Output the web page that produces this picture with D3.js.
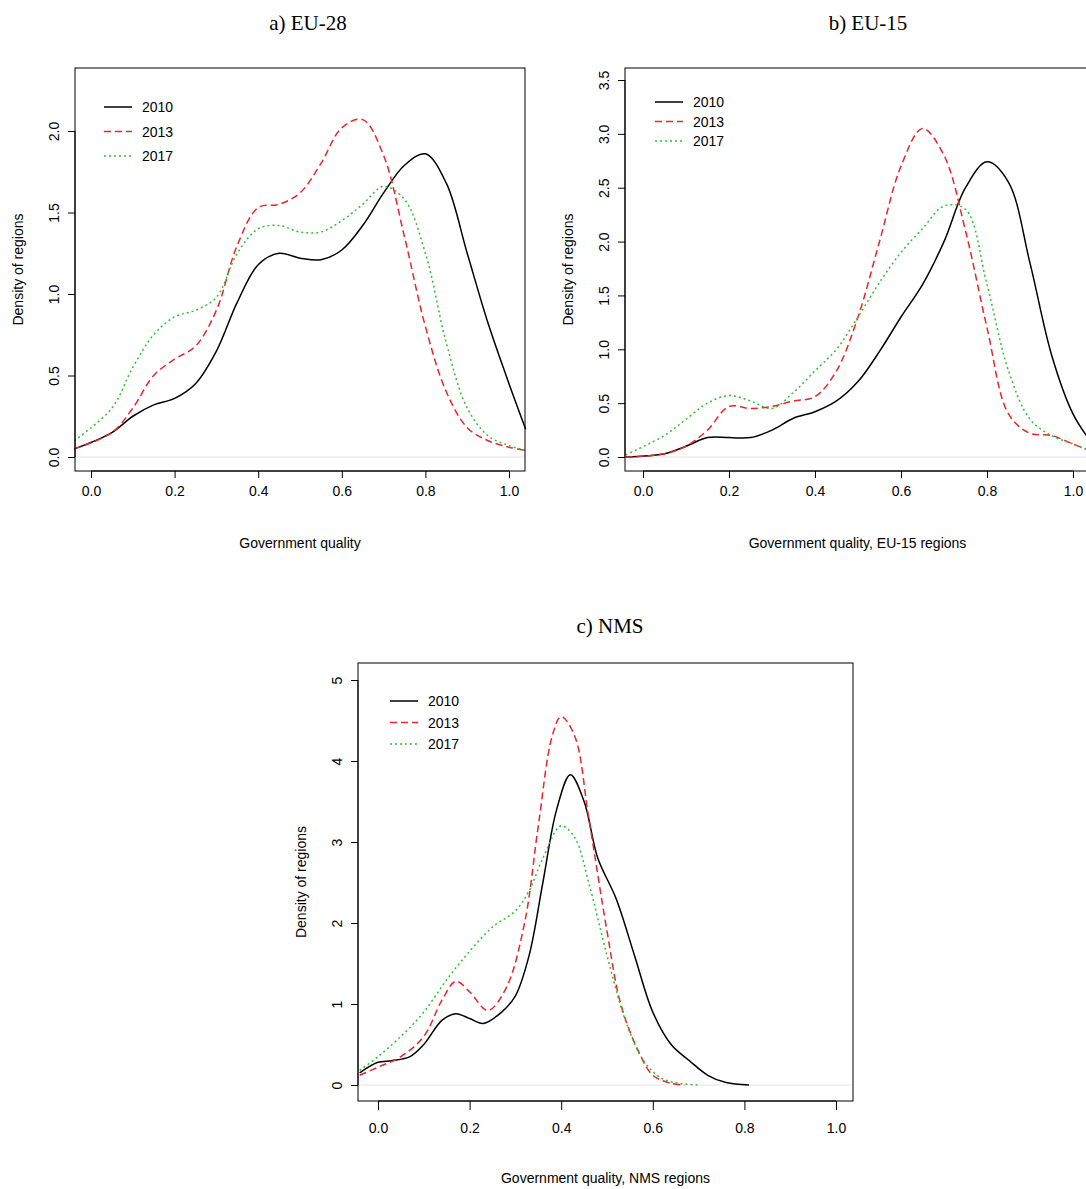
<!DOCTYPE html>
<html><head><meta charset="utf-8">
<script src="https://cdn.jsdelivr.net/npm/d3@7"></script>
<style>body{margin:0;background:#fff}svg{display:block}</style>
</head><body>
<svg id="c" width="1086" height="1189"></svg>
<script>
var years = ["2010", "2013", "2017"];
var colors = ["#000000", "#e8262b", "#2ec02e"];
var dashes = [null, "7,4", "2,3"];

var euX = [-0.04,0.05,0.1,0.15,0.2,0.25,0.3,0.35,0.4,0.45,0.5,0.55,0.6,0.65,0.7,0.75,0.8,0.85,0.9,0.95,1.0,1.04];
var eu28_2010 = [0.05,0.15,0.25,0.32,0.36,0.45,0.65,0.95,1.18,1.25,1.22,1.21,1.27,1.42,1.62,1.79,1.86,1.68,1.25,0.82,0.45,0.17];
var eu28_2013 = [0.05,0.15,0.3,0.5,0.6,0.68,0.9,1.3,1.53,1.55,1.62,1.8,2.02,2.07,1.85,1.35,0.8,0.4,0.18,0.1,0.06,0.04];
var eu28_2017 = [0.1,0.3,0.55,0.75,0.86,0.9,0.98,1.25,1.4,1.42,1.38,1.38,1.45,1.55,1.66,1.58,1.25,0.7,0.3,0.13,0.07,0.04];
var eu15_2010 = [0.0,0.03,0.1,0.18,0.18,0.18,0.25,0.36,0.42,0.52,0.7,0.98,1.3,1.6,2.0,2.5,2.74,2.55,1.8,0.95,0.4,0.15];
var eu15_2013 = [0.0,0.03,0.1,0.25,0.47,0.45,0.47,0.52,0.56,0.8,1.3,2.0,2.7,3.05,2.8,2.1,1.2,0.4,0.22,0.2,0.12,0.06];
var eu15_2017 = [0.02,0.2,0.35,0.5,0.57,0.52,0.45,0.6,0.8,1.0,1.3,1.62,1.9,2.12,2.33,2.3,1.6,0.8,0.35,0.2,0.12,0.06];

var nms2010X = [-0.04,0.0,0.03,0.07,0.1,0.14,0.17,0.2,0.23,0.27,0.3,0.33,0.36,0.39,0.42,0.45,0.48,0.52,0.56,0.6,0.64,0.68,0.72,0.76,0.81];
var nms2010 = [0.15,0.28,0.3,0.35,0.5,0.8,0.88,0.82,0.76,0.9,1.1,1.6,2.5,3.4,3.83,3.5,2.8,2.3,1.6,0.9,0.5,0.3,0.12,0.03,0.0];
var nms2013X = [-0.04,0.0,0.05,0.1,0.14,0.17,0.2,0.24,0.28,0.32,0.35,0.38,0.4,0.43,0.46,0.5,0.53,0.57,0.6,0.64,0.67];
var nms2013 = [0.12,0.22,0.35,0.6,1.05,1.28,1.15,0.92,1.2,2.0,3.2,4.3,4.55,4.3,3.3,1.9,1.0,0.4,0.12,0.02,0.0];
var nms2017X = [-0.04,0.0,0.05,0.1,0.15,0.2,0.25,0.3,0.33,0.36,0.4,0.43,0.46,0.5,0.54,0.58,0.62,0.66,0.7];
var nms2017 = [0.18,0.35,0.6,0.9,1.3,1.65,1.95,2.15,2.4,2.8,3.2,3.05,2.5,1.6,0.8,0.3,0.08,0.02,0.0];

var xTicks = [0, 0.2, 0.4, 0.6, 0.8, 1.0];
var svg = d3.select("#c");

function panel(o) {
  var x = d3.scaleLinear().domain([0, 1]).range([o.x0, o.x1]);
  var y = d3.scaleLinear().domain([0, o.yRef]).range([o.y0, o.y1]);
  var g = svg.append("g");
  g.append("text").attr("x", o.tx).attr("y", o.ty).attr("text-anchor", "middle")
    .style("font-family", "Liberation Serif, serif").style("font-size", "21px").text(o.title);
  g.append("line").attr("x1", o.bl).attr("x2", o.br).attr("y1", y(0)).attr("y2", y(0))
    .attr("stroke", "#e6e6e6");
  var line = d3.line().x(d => x(d[0])).y(d => y(d[1])).curve(d3.curveCatmullRom.alpha(0.5));
  o.series.forEach(function(s, i) {
    g.append("path").datum(d3.zip(s[0], s[1])).attr("d", line).attr("fill", "none")
      .attr("stroke", colors[i]).attr("stroke-width", 1.5).attr("stroke-dasharray", dashes[i]);
  });
  g.append("rect").attr("x", o.bl).attr("y", o.bt).attr("width", o.br - o.bl).attr("height", o.bb - o.bt)
    .attr("fill", "none").attr("stroke", "#000");
  var xa = g.append("g").attr("transform", "translate(0," + o.bb + ")")
    .call(d3.axisBottom(x).tickValues(xTicks).tickFormat(d3.format(".1f")).tickSizeOuter(0).tickSize(o.xts).tickPadding(o.xtp));
  xa.select(".domain").attr("d", "M" + x(0) + ",0H" + x(1));
  var ya = g.append("g").attr("transform", "translate(" + o.bl + ",0)")
    .call(d3.axisLeft(y).tickValues(o.yTicks).tickFormat(o.fmt).tickSizeOuter(0).tickSize(7));
  ya.select(".domain").attr("d", "M0," + y(o.yTicks[0]) + "V" + y(o.yTicks[o.yTicks.length - 1]));
  ya.selectAll(".tick text").attr("transform", "rotate(-90)").attr("x", 0).attr("y", -16)
    .attr("dy", "0").attr("text-anchor", "middle");
  [xa, ya].forEach(a => a.selectAll("text").style("font-family", "Liberation Sans, Arial").style("font-size", "14px"));
  g.append("text").attr("x", (o.bl + o.br) / 2).attr("y", o.bb + o.xly).attr("text-anchor", "middle")
    .style("font-family", "Liberation Sans, Arial").style("font-size", "14px").text(o.xlab);
  g.append("text").attr("transform", "translate(" + (o.bl - 52) + "," + ((o.bt + o.bb) / 2) + ") rotate(-90)")
    .attr("text-anchor", "middle").style("font-family", "Liberation Sans, Arial").style("font-size", "14px")
    .text("Density of regions");
  years.forEach(function(yr, i) {
    var ly = o.ly + i * o.lh;
    g.append("line").attr("x1", o.lx).attr("x2", o.lx + 28).attr("y1", ly).attr("y2", ly)
      .attr("stroke", colors[i]).attr("stroke-width", 1.5).attr("stroke-dasharray", dashes[i]);
    g.append("text").attr("x", o.lx + 38).attr("y", ly + 5).style("font-family", "Liberation Sans, Arial")
      .style("font-size", "14px").text(yr);
  });
}

panel({title: "a) EU-28", tx: 308, ty: 30, x0: 91, x1: 509, yRef: 2, y0: 457, y1: 131,
  bl: 75, br: 525, bt: 68, bb: 471, yTicks: [0, 0.5, 1, 1.5, 2], fmt: d3.format(".1f"),
  xts: 7, xtp: 8, xly: 77,
  xlab: "Government quality", lx: 104, ly: 107, lh: 24.5,
  series: [[euX, eu28_2010], [euX, eu28_2013], [euX, eu28_2017]]});
panel({title: "b) EU-15", tx: 868, ty: 30, x0: 643, x1: 1073, yRef: 3.5, y0: 457, y1: 80,
  bl: 625, br: 1090, bt: 68, bb: 471, yTicks: [0, 0.5, 1, 1.5, 2, 2.5, 3, 3.5], fmt: d3.format(".1f"),
  xts: 7, xtp: 8, xly: 77,
  xlab: "Government quality, EU-15 regions", lx: 655, ly: 102, lh: 19.5,
  series: [[euX, eu15_2010], [euX, eu15_2013], [euX, eu15_2017]]});
panel({title: "c) NMS", tx: 610, ty: 633, x0: 378, x1: 836, yRef: 5, y0: 1085, y1: 680,
  bl: 358, br: 853, bt: 663, bb: 1101, yTicks: [0, 1, 2, 3, 4, 5], fmt: d3.format("d"),
  xts: 9, xtp: 13, xly: 82,
  xlab: "Government quality, NMS regions", lx: 390, ly: 701, lh: 21.5,
  series: [[nms2010X, nms2010], [nms2013X, nms2013], [nms2017X, nms2017]]});
</script>
</body></html>
